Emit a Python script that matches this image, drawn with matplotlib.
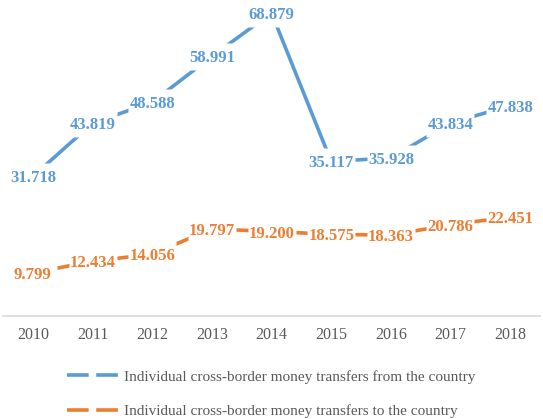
import matplotlib
matplotlib.use("Agg")
import matplotlib.pyplot as plt
from matplotlib.lines import Line2D

plt.rcParams['font.family'] = ['Liberation Serif', 'DejaVu Serif']

# --- Data ---
years = ["2010", "2011", "2012", "2013", "2014", "2015", "2016", "2017", "2018"]
from_country = [31.718, 43.819, 48.588, 58.991, 68.879, 35.117, 35.928, 43.834, 47.838]
to_country = [9.799, 12.434, 14.056, 19.797, 19.200, 18.575, 18.363, 20.786, 22.451]
series_names = ["Individual cross-border money transfers from the country",
                "Individual cross-border money transfers to the country"]

blue = "#5B9BD5"
orange = "#ED7D31"

fig = plt.figure(figsize=(5.43, 4.19), dpi=100)
ax = fig.add_axes([3 / 543, 1 - 316 / 419, 537 / 543, 308 / 419])

# white label box (48 x 27 px) hiding the line behind each data label
label_box = [(-24, -13.5), (24, -13.5), (24, 13.5), (-24, 13.5), (-24, -13.5)]

x = list(range(len(years)))
for vals, col in [(from_country, blue), (to_country, orange)]:
    ax.plot(x, vals, color=col, lw=2.6, solid_capstyle="butt", zorder=2)
    ax.plot(x, vals, ls="none", marker=label_box, ms=48 * 0.72,
            mfc="white", mec="none", zorder=3)
    for xi, v in zip(x, vals):
        ax.text(xi, v, f"{v:.3f}", ha="center", va="center_baseline", color=col,
                fontsize=12, fontweight="bold", zorder=4)

ax.set_xlim(-0.5, len(years) - 0.5)
ax.set_ylim(0, 70)
ax.set_xticks(x)
ax.set_xticklabels(years, fontsize=11.5, color="#595959")
ax.tick_params(axis="x", length=0, pad=8)
ax.set_yticks([])
for s in ["top", "right", "left"]:
    ax.spines[s].set_visible(False)
ax.spines["bottom"].set_color("#D9D9D9")
ax.spines["bottom"].set_linewidth(1.2)

# --- Legend (dashed handles) ---
handles = [Line2D([], [], color=blue, lw=2.6, dashes=(6.0, 2.1)),
           Line2D([], [], color=orange, lw=2.6, dashes=(6.0, 2.1))]
fig.legend(handles, series_names, loc="upper center", bbox_to_anchor=(0.5, 1 - 356 / 419),
           frameon=False, fontsize=11, labelcolor="#595959", handlelength=3.4,
           handletextpad=0.35, labelspacing=1.36)

fig.savefig("out.png", dpi=100)
